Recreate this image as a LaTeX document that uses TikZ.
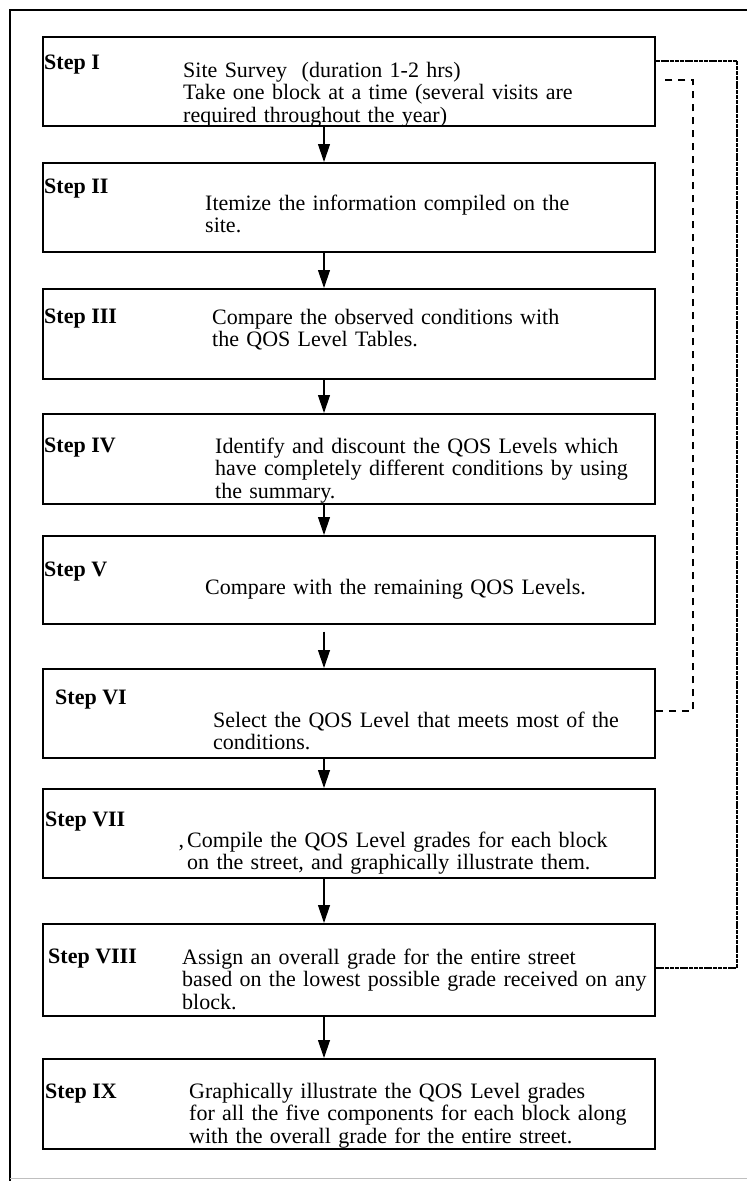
\documentclass[tikz,border=0pt]{standalone}
\usepackage{fontspec}
\setmainfont{Liberation Serif}
\usetikzlibrary{arrows.meta}

\begin{document}
\begin{tikzpicture}[x=1pt, y=-1pt,
    stepbox/.style = {draw, line width=1.5pt, minimum width=612pt, inner sep=0pt, anchor=north},
    steplabel/.style = {anchor=base west, inner sep=0pt, font={\fontsize{22}{22.5}\selectfont\bfseries}},
    steptext/.style = {anchor=base west, inner sep=0pt, text width=520pt, align=left, font={\fontsize{22}{22.5}\selectfont}},
    flow/.style = {line width=1.2pt, -{Triangle[length=18pt, width=12pt]}},
    backloop/.style = {line width=1.3pt, dash pattern=on 4pt off 0.8pt},
    recheck/.style = {line width=1.2pt, dash pattern=on 7pt off 6pt}]
        \useasboundingbox (0,0) rectangle (747,1181);
        % outer frame
        \draw[line width=1.2pt] (747,10) -- (10,10) -- (10,1181);
        \draw[line width=0.8pt, black!25] (10,1178) -- (747,1178);
        % step boxes
        \node[stepbox, minimum height=89pt] (s1) at (349,36) {};
        \node[stepbox, minimum height=89pt] (s2) at (349,162) {};
        \node[stepbox, minimum height=90pt] (s3) at (349,288) {};
        \node[stepbox, minimum height=90pt] (s4) at (349,413) {};
        \node[stepbox, minimum height=88pt] (s5) at (349,535) {};
        \node[stepbox, minimum height=89pt] (s6) at (349,668) {};
        \node[stepbox, minimum height=89pt] (s7) at (349,788) {};
        \node[stepbox, minimum height=92pt] (s8) at (349,923) {};
        \node[stepbox, minimum height=90pt] (s9) at (349,1058) {};
        % labels
        \node[steplabel] (l1) at (44,69) {Step I};
        \node[steplabel] (l2) at (44,193) {Step II};
        \node[steplabel] (l3) at (44,323) {Step III};
        \node[steplabel] (l4) at (44,452) {Step IV};
        \node[steplabel] (l5) at (44,576) {Step V};
        \node[steplabel] (l6) at (55,704) {Step VI};
        \node[steplabel] (l7) at (45,826) {Step VII};
        \node[steplabel] (l8) at (48,963) {Step VIII};
        \node[steplabel] (l9) at (45,1098) {Step IX};
        % texts
        \node[steptext] (t1) at (183,77) {Site Survey\ \ (duration 1-2 hrs)\\Take one block at a time (several visits are\\required throughout the year)};
        \node[steptext] (t2) at (205,210) {Itemize the information compiled on the\\site.};
        \node[steptext] (t3) at (212,324) {Compare the observed conditions with\\the QOS Level Tables.};
        \node[steptext] (t4) at (215,453) {Identify and discount the QOS Levels which\\have completely different conditions by using\\the summary.};
        \node[steptext] (t5) at (205,594) {Compare with the remaining QOS Levels.};
        \node[steptext] (t6) at (213,727) {Select the QOS Level that meets most of the\\conditions.};
        \node[steptext] (t7) at (187,847) {\llap{,\kern3pt}Compile the QOS Level grades for each block\\on the street, and graphically illustrate them.};
        \node[steptext] (t8) at (182,964) {Assign an overall grade for the entire street\\based on the lowest possible grade received on any\\block.};
        \node[steptext] (t9) at (189,1098) {Graphically illustrate the QOS Level grades\\for all the five components for each block along\\with the overall grade for the entire street.};
        % flow arrows
        \coordinate (ax) at (324,0);
        \draw[flow] (s1.south -| ax) -- (s2.north -| ax);
        \draw[flow] (s2.south -| ax) -- (s3.north -| ax);
        \draw[flow] (s3.south -| ax) -- (s4.north -| ax);
        \draw[flow] (s4.south -| ax) -- (s5.north -| ax);
        \draw[flow, shorten <=7pt] (s5.south -| ax) -- (s6.north -| ax);
        \draw[flow] (s6.south -| ax) -- (s7.north -| ax);
        \draw[flow] (s7.south -| ax) -- (s8.north -| ax);
        \draw[flow] (s8.south -| ax) -- (s9.north -| ax);
        % loops on the right
        \coordinate (o1) at (737,61);
        \coordinate (o2) at (737,968);
        \draw[backloop] (s1.east |- o1) -- (o1) -- (o2) -- (s8.east |- o2);
        \coordinate (d0) at (665,80);
        \coordinate (d1) at (693,80);
        \coordinate (d2) at (693,711);
        \draw[recheck] (s6.east |- d2) -- (d2) -- (d1) -- (d0);
    \end{tikzpicture}
\end{document}
